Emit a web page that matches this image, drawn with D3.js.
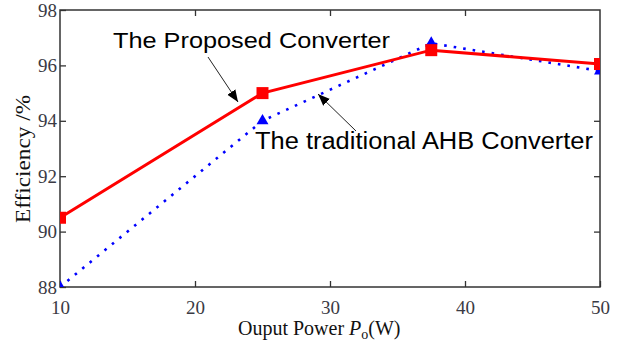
<!DOCTYPE html>
<html>
<head>
<meta charset="utf-8">
<script src="https://cdn.jsdelivr.net/npm/d3@7"></script>
<style>
  body { margin: 0; background: #fff; }
  svg { display: block; }
</style>
</head>
<body>
<svg id="chart" width="627" height="343"></svg>
<script>
// output power (W)
const power = [10, 25, 37.5, 50];
// efficiency (%)
const proposed = [90.5, 95.0, 96.55, 96.05];
const traditional = [88.0, 94.0, 96.8, 95.8];
const xTicks = [10, 20, 30, 40, 50];
const yTicks = [88, 90, 92, 94, 96, 98];

const svg = d3.select('#chart');
const plotLeft = 60, plotRight = 600, plotTop = 10, plotBottom = 287;

const x = d3.scaleLinear().domain([10, 50]).range([plotLeft, plotRight]);
const y = d3.scaleLinear().domain([88, 98]).range([plotBottom, plotTop]);

// axes with inward ticks
const axisColor = '#333';
const tickFont = '"Liberation Serif", "Times New Roman", serif';

svg.append('g')
    .attr('transform', `translate(0,${plotBottom})`)
    .call(d3.axisBottom(x).tickValues(xTicks).tickSizeInner(-6).tickSizeOuter(0).tickPadding(14))
    .call(g => g.select('.domain').remove());
svg.append('g')
    .attr('transform', `translate(0,${plotTop})`)
    .call(d3.axisTop(x).tickValues(xTicks.slice(1, -1)).tickSizeInner(-6).tickSizeOuter(0).tickFormat(''))
    .call(g => g.select('.domain').remove());
svg.append('g')
    .attr('transform', `translate(${plotLeft},0)`)
    .call(d3.axisLeft(y).tickValues(yTicks).tickSizeInner(-6).tickSizeOuter(0).tickPadding(3))
    .call(g => g.select('.domain').remove());
svg.append('g')
    .attr('transform', `translate(${plotRight},0)`)
    .call(d3.axisRight(y).tickValues(yTicks.slice(1, -1)).tickSizeInner(-6).tickSizeOuter(0).tickFormat(''))
    .call(g => g.select('.domain').remove());

svg.selectAll('.tick line').attr('stroke', axisColor).attr('stroke-width', 1.3);
svg.selectAll('.tick text')
    .attr('fill', '#3a3a44')
    .style('font-family', tickFont)
    .style('font-size', '19px');

// plot frame
svg.append('rect')
    .attr('x', plotLeft).attr('y', plotTop)
    .attr('width', plotRight - plotLeft).attr('height', plotBottom - plotTop)
    .attr('fill', 'none')
    .attr('stroke', axisColor)
    .attr('stroke-width', 1.5);

// clip so markers at edges get cut like the original
svg.append('clipPath').attr('id', 'clip')
    .append('rect')
    .attr('x', plotLeft).attr('y', plotTop)
    .attr('width', plotRight - plotLeft).attr('height', plotBottom - plotTop);

const plot = svg.append('g').attr('clip-path', 'url(#clip)');

const line = d3.line().x(d => x(d[0])).y(d => y(d[1]));

// traditional AHB (blue dotted, triangles)
const tradData = power.map((p, i) => [p, traditional[i]]);
plot.append('path')
    .datum(tradData)
    .attr('d', line)
    .attr('fill', 'none')
    .attr('stroke', '#0000ff')
    .attr('stroke-width', 2.6)
    .attr('stroke-dasharray', '2.6 7');
plot.selectAll('.tri')
    .data(tradData)
    .join('path')
    .attr('transform', d => `translate(${x(d[0])},${y(d[1])})`)
    .attr('d', d3.symbol(d3.symbolTriangle, 62))
    .attr('fill', '#0000ff');

// proposed converter (red solid, squares)
const propData = power.map((p, i) => [p, proposed[i]]);
plot.append('path')
    .datum(propData)
    .attr('d', line)
    .attr('fill', 'none')
    .attr('stroke', '#ff0000')
    .attr('stroke-width', 3);
plot.selectAll('.sq')
    .data(propData)
    .join('rect')
    .attr('x', d => x(d[0]) - 6)
    .attr('y', d => y(d[1]) - 6)
    .attr('width', 12).attr('height', 12)
    .attr('fill', '#ff0000');

// axis titles
const xTitle = svg.append('text')
    .attr('x', 238)
    .attr('y', 335)
    .attr('fill', '#111')
    .style('font-family', tickFont)
    .style('font-size', '20px');
xTitle.append('tspan').text('Ouput Power ');
xTitle.append('tspan').style('font-style', 'italic').text('P');
xTitle.append('tspan').attr('dy', 4).style('font-size', '14px').text('o');
xTitle.append('tspan').attr('dy', -4).text('(W)');

svg.append('text')
    .attr('transform', `translate(30,159) rotate(-90)`)
    .attr('text-anchor', 'middle')
    .attr('fill', '#111')
    .style('font-family', tickFont)
    .style('font-size', '20px')
    .attr('textLength', 128)
    .attr('lengthAdjust', 'spacingAndGlyphs')
    .text('Efficiency /%');

// annotations
svg.append('defs').append('marker')
    .attr('id', 'arrow')
    .attr('viewBox', '0 0 10 10')
    .attr('refX', 10).attr('refY', 5)
    .attr('markerWidth', 12).attr('markerHeight', 12)
    .attr('markerUnits', 'userSpaceOnUse')
    .attr('orient', 'auto')
    .append('path')
    .attr('d', 'M0,1 L10,5 L0,9 Z')
    .attr('fill', '#000');

const labelFont = '"Liberation Sans", Arial, sans-serif';
svg.append('text')
    .attr('x', 113).attr('y', 48)
    .style('font-family', labelFont)
    .style('font-size', '22.5px')
    .attr('fill', '#000')
    .attr('textLength', 277)
    .attr('lengthAdjust', 'spacingAndGlyphs')
    .text('The Proposed Converter');
svg.append('line')
    .attr('x1', 208).attr('y1', 57)
    .attr('x2', 238).attr('y2', 102)
    .attr('stroke', '#222').attr('stroke-width', 1)
    .attr('marker-end', 'url(#arrow)');

svg.append('text')
    .attr('x', 255).attr('y', 149)
    .style('font-family', labelFont)
    .style('font-size', '23px')
    .attr('fill', '#000')
    .attr('textLength', 338)
    .attr('lengthAdjust', 'spacingAndGlyphs')
    .text('The traditional AHB Converter');
svg.append('line')
    .attr('x1', 356).attr('y1', 131)
    .attr('x2', 318).attr('y2', 94)
    .attr('stroke', '#222').attr('stroke-width', 1)
    .attr('marker-end', 'url(#arrow)');
</script>
</body>
</html>
